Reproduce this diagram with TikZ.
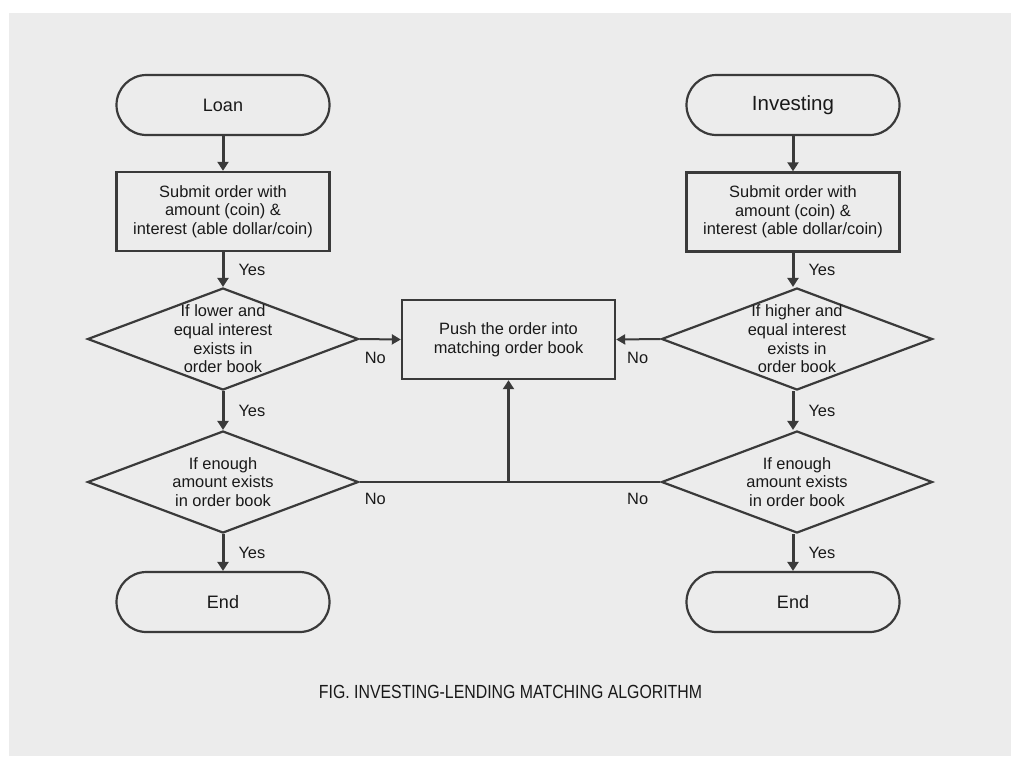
\documentclass[tikz,border=0pt]{standalone}
\usepackage{fontspec}
\setmainfont{Liberation Sans}
\newfontfamily\capfont[FakeStretch=0.835]{Liberation Sans}
\usetikzlibrary{shapes.geometric,arrows.meta,calc}
\definecolor{panel}{RGB}{236,236,236}
\definecolor{ink}{RGB}{58,58,58}
\definecolor{txt}{RGB}{25,25,25}
\begin{document}
\begin{tikzpicture}[x=1pt,y=-1pt,
  every node/.style={text=txt, font=\fontsize{16.4}{18.6}\selectfont},
  terminal/.style={draw=ink, line width=2.2pt, rounded corners=30pt,
    minimum width=213pt, minimum height=60pt, inner sep=0pt},
  process/.style={draw=ink, line width=2.4pt, minimum width=213pt,
    minimum height=79pt, align=center, inner sep=0pt},
  decision/.style={diamond, draw=ink, line width=2.2pt, minimum width=271pt,
    minimum height=102pt, inner sep=0pt},
  dtext/.style={align=center, inner sep=0pt},
  flow/.style={draw=ink, line width=3pt, -{Triangle[length=9pt,width=11pt]}},
  noflow/.style={draw=ink, line width=2pt, -{Triangle[length=9pt,width=10pt]}},
  joinline/.style={draw=ink, line width=1.8pt},
  yes/.style={midway, anchor=west, xshift=14pt, inner sep=0pt},
  answer/.style={inner sep=0pt}
]
% canvas and grey panel
\fill[white] (0,0) rectangle (1011,756);
\fill[panel] (9,13) rectangle (1011,756);
\useasboundingbox (0,0) rectangle (1011,756);

% lending column
\node[terminal, font=\fontsize{18}{20}\selectfont] (loan) at (223,105) {Loan};
\node[process] (subL) at (223,211.5) {Submit order with\\amount (coin) \&\\interest (able dollar/coin)};
\node[decision, label={[dtext]center:If lower and\\equal interest\\exists in\\order book}] (rateL) at (223,339) {};
\node[decision, label={[dtext]center:If enough\\amount exists\\in order book}] (amtL) at (223,482) {};
\node[terminal, font=\fontsize{18}{20}\selectfont] (endL) at (223,602) {End};

% investing column
\node[terminal, font=\fontsize{20.5}{22}\selectfont] (inv) at (793,105) {Investing};
\node[process] (subR) at (793,212) {Submit order with\\amount (coin) \&\\interest (able dollar/coin)};
\node[decision, label={[dtext]center:If higher and\\equal interest\\exists in\\order book}] (rateR) at (797,339) {};
\node[decision, label={[dtext]center:If enough\\amount exists\\in order book}] (amtR) at (797,482) {};
\node[terminal, font=\fontsize{18}{20}\selectfont] (endR) at (793,602) {End};

% shared order book
\node[process] (push) at (508.5,339.5) {Push the order into\\matching order book};

% main flow, lending side
\draw[flow] (loan) -- (subL);
\draw[flow] (subL) -- (rateL.north) node[yes] (y1) {Yes};
\draw[flow] (rateL) -- (amtL) node[yes] (y2) {Yes};
\draw[flow] (amtL) -- (endL) node[yes] (y3) {Yes};

% main flow, investing side
\draw[flow] (inv) -- (subR);
\draw[flow] (subR.south) -- (subR.south |- rateR.north) node[yes] (y4) {Yes};
\draw[flow] (subR.south |- rateR.south) -- (subR.south |- amtR.north) node[yes] (y5) {Yes};
\draw[flow] (subR.south |- amtR.south) -- (endR) node[yes] (y6) {Yes};

% "No" branches into the order book
\draw[noflow] (rateL.east) -- (push.west);
\draw[noflow] (rateR.west) -- (push.east);
\coordinate (join) at (push.south |- amtL.east);
\draw[joinline] (amtL.east) -- (amtR.west);
\draw[flow] (join) -- (push.south);

\node[answer, anchor=west] (n1) at ($(rateL.east)+(5,19)$) {No};
\node[answer, anchor=east] (n2) at ($(rateR.west)+(-12,19)$) {No};
\node[answer, anchor=west] (n3) at ($(amtL.east)+(5,17)$) {No};
\node[answer, anchor=east] (n4) at ($(amtR.west)+(-12,17)$) {No};

% caption
\node[font=\capfont\fontsize{19}{22}\selectfont] (cap) at (510.5,692) {FIG. INVESTING-LENDING MATCHING ALGORITHM};
\end{tikzpicture}
\end{document}
